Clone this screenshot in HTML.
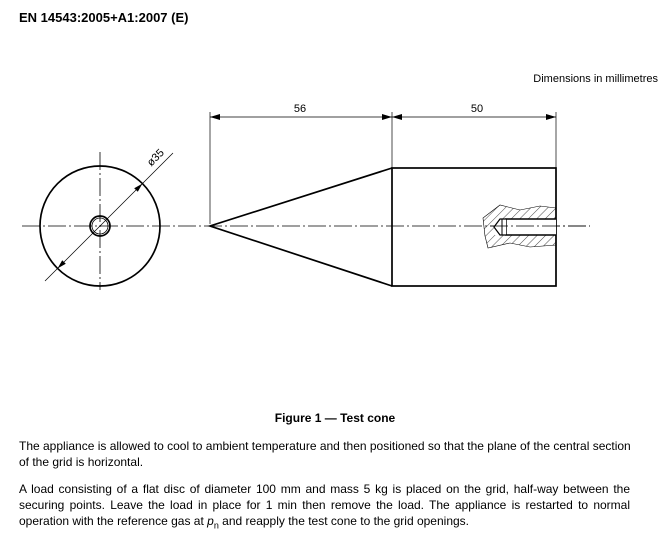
<!DOCTYPE html>
<html><head><meta charset="utf-8"><style>
body{margin:0;width:670px;height:537px;background:#fff;position:relative;overflow:hidden;font-family:"Liberation Sans",Arial,sans-serif;color:#000}
.t{position:absolute;white-space:nowrap;font-size:12px;line-height:14px}
.j{position:absolute;left:19px;width:611px;font-size:12px;line-height:14px;text-align:justify;text-align-last:justify;white-space:nowrap}
</style></head><body>
<div class="t" style="left:19px;top:11px;font-weight:bold;font-size:13px">EN 14543:2005+A1:2007 (E)</div>
<div class="t" style="right:12px;top:72px;font-size:11px">Dimensions in millimetres</div>
<svg width="670" height="400" style="position:absolute;left:0;top:0" xmlns="http://www.w3.org/2000/svg">
<defs>
<marker id="a" viewBox="0 0 10 6" refX="10" refY="3" markerWidth="10" markerHeight="6" orient="auto-start-reverse" markerUnits="userSpaceOnUse"><path d="M0,0 L10,3 L0,6 z" fill="#000"/></marker>
<pattern id="h" width="6" height="6" patternUnits="userSpaceOnUse" patternTransform="rotate(45)"><line x1="0" y1="0" x2="0" y2="6" stroke="#000" stroke-width="0.7"/></pattern>
</defs>
<g fill="none" stroke="#000">
<line x1="22" y1="226" x2="590" y2="226" stroke-width="0.8" stroke-dasharray="18,3,2,3"/>
<line x1="100" y1="152" x2="100" y2="290" stroke-width="0.8" stroke-dasharray="18,3,2,3"/>
<circle cx="100" cy="226" r="60" stroke-width="1.7"/>
<circle cx="100" cy="226" r="10" stroke-width="1.7"/>
<circle cx="100" cy="226" r="8" stroke-width="0.8"/>
<line x1="45" y1="281" x2="173" y2="153" stroke-width="0.7"/>
<path d="M142.4,183.6 L137.8,191.8 L134.2,188.2 z" fill="#000" stroke="none"/>
<path d="M57.6,268.4 L65.8,263.8 L62.2,260.2 z" fill="#000" stroke="none"/>
<path d="M392,168 L210,226 L392,286" stroke-width="1.7"/>
<rect x="392" y="168" width="164" height="118" stroke-width="1.7"/>
<path d="M556,208 L540,206 L520,210 L500,205 L483,218 L485,236 L488,248 L510,243 L530,247 L556,245 Z" fill="url(#h)" stroke-width="0.6"/>
<rect x="495" y="219" width="61" height="16" fill="#fff" stroke="none"/>
<path d="M556,219 L506,219 L506,235 L556,235" stroke-width="1.4"/>
<path d="M506,219 L500,219 L494,227 L500,235 L506,235" stroke-width="1.2" fill="#fff"/>
<line x1="502" y1="219" x2="502" y2="235" stroke-width="1"/>
<line x1="490" y1="226" x2="590" y2="226" stroke-width="0.8" stroke-dasharray="18,3,2,3"/>
<line x1="210" y1="112" x2="210" y2="224" stroke-width="0.7"/>
<line x1="392" y1="112" x2="392" y2="168" stroke-width="0.7"/>
<line x1="556" y1="112" x2="556" y2="168" stroke-width="0.7"/>
<line x1="210" y1="117" x2="392" y2="117" stroke-width="0.7" marker-start="url(#a)" marker-end="url(#a)"/>
<line x1="392" y1="117" x2="556" y2="117" stroke-width="0.7" marker-start="url(#a)" marker-end="url(#a)"/>
</g>
<g font-family="'Liberation Sans Narrow','Liberation Sans',sans-serif" font-size="11" fill="#000">
<text x="300" y="112" text-anchor="middle">56</text>
<text x="477" y="112" text-anchor="middle">50</text>
<text x="158" y="160" transform="rotate(-45 158 160)" text-anchor="middle">ø35</text>
</g>
</svg>
<div class="t" style="left:0;width:670px;text-align:center;top:411px;font-weight:bold">Figure 1 — Test cone</div>
<div class="j" style="top:439px">The appliance is allowed to cool to ambient temperature and then positioned so that the plane of the central section</div>
<div class="t" style="left:19px;top:455px">of the grid is horizontal.</div>
<div class="j" style="top:482px">A load consisting of a flat disc of diameter 100 mm and mass 5 kg is placed on the grid, half-way between the</div>
<div class="j" style="top:498px">securing points. Leave the load in place for 1 min then remove the load. The appliance is restarted to normal</div>
<div class="t" style="left:19px;top:514px">operation with the reference gas at <i>p</i><sub style="font-size:9px">n</sub> and reapply the test cone to the grid openings.</div>
</body></html>
